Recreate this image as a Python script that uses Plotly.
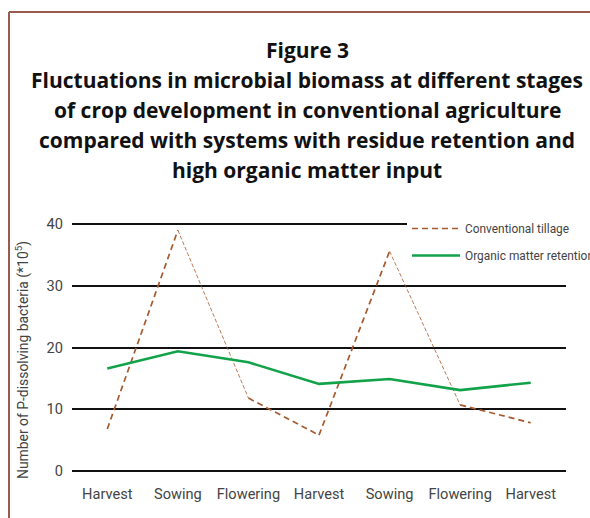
import plotly.graph_objects as go

stages = ["Harvest", "Sowing", "Flowering", "Harvest ", "Sowing ", "Flowering ", "Harvest  "]
stage_labels = ["Harvest", "Sowing", "Flowering", "Harvest", "Sowing", "Flowering", "Harvest"]
conventional = [6.8, 39.0, 11.8, 5.8, 35.6, 10.7, 7.8]
organic = [16.6, 19.4, 17.6, 14.1, 14.9, 13.1, 14.3]
y_ticks = [0, 10, 20, 30, 40]

title_lines = [
    "Figure 3",
    "Fluctuations in microbial biomass at different stages",
    "of crop development in conventional agriculture",
    "compared with systems with residue retention and",
    "high organic matter input",
]

BROWN = "#A65A2E"
GREEN = "#12A24A"
W, H = 590, 518
ML, MR, MT, MB = 72, 24, 221, 44

fig = go.Figure()

# conventional tillage: drawn segment by segment (the sowing->flowering drops are thin)
for i in range(len(stages) - 1):
    thin = stage_labels[i] == "Sowing"
    fig.add_trace(go.Scatter(
        x=[stages[i], stages[i + 1]], y=[conventional[i], conventional[i + 1]],
        mode="lines",
        line=dict(color=BROWN, width=0.8 if thin else 1.7, dash="4px,2px" if thin else "6px,4px"),
        name="Conventional tillage", showlegend=(i == 0), legend="legend",
        hoverinfo="skip",
    ))

fig.add_trace(go.Scatter(
    x=stages, y=organic, mode="lines",
    line=dict(color=GREEN, width=2.6),
    name="Organic matter retention", legend="legend2",
))

pw = W - ML - MR
ph = H - MT - MB

def px_x(p):
    return (p - ML) / pw

def px_y(p):
    return (H - MB - p) / ph

SANS = "Roboto, Liberation Sans, sans-serif"

annotations = []
title_y = [50, 80, 110, 140, 170]
for line, yy in zip(title_lines, title_y):
    annotations.append(dict(
        text=f"<b>{line}</b>", x=px_x(307), y=px_y(yy), xref="paper", yref="paper",
        xanchor="center", yanchor="middle", showarrow=False,
        font=dict(family="Open Sans", size=21.0, color="#111111"),
    ))
annotations.append(dict(
    text="Number of P-dissolving bacteria (*10<sup>5</sup>)", textangle=-90,
    x=px_x(22), y=px_y(360), xref="paper", yref="paper",
    xanchor="center", yanchor="middle", showarrow=False,
    font=dict(family=SANS, size=13.9, color="#444444"),
))

shapes = [
    dict(type="line", xref="paper", yref="paper", x0=px_x(9), x1=px_x(600), y0=px_y(12), y1=px_y(12),
         line=dict(color="#9A5A50", width=2)),
    dict(type="line", xref="paper", yref="paper", x0=px_x(9), x1=px_x(9), y0=px_y(12), y1=px_y(530),
         line=dict(color="#9A5A50", width=2)),
]

tick_font = dict(family=SANS, size=14.6, color="#444444")
legend_font = dict(family=SANS, size=11.9, color="#444444")

fig.update_layout(
    width=W, height=H,
    margin=dict(l=ML, r=MR, t=MT, b=MB, autoexpand=False),
    paper_bgcolor="white", plot_bgcolor="white",
    annotations=annotations, shapes=shapes,
    xaxis=dict(type="category", categoryorder="array", categoryarray=stages,
               tickvals=stages, ticktext=stage_labels, range=[-0.5, 6.5],
               showgrid=False, zeroline=False, showline=False, ticks="",
               tickangle=0, automargin=False,
               ticklabelstandoff=9, tickfont=tick_font),
    yaxis=dict(range=[-0.5, 40.5], tickvals=y_ticks, showgrid=True, gridcolor="#111111",
               gridwidth=1.5, zeroline=False, showline=False, ticks="", ticklabelstandoff=8,
               automargin=False, tickfont=tick_font),
    legend=dict(x=px_x(407), y=px_y(214), xanchor="left", yanchor="top",
                bgcolor="white", borderwidth=0, font=legend_font, itemwidth=48),
    legend2=dict(x=px_x(407), y=px_y(241), xanchor="left", yanchor="top",
                 bgcolor="rgba(0,0,0,0)", borderwidth=0, font=legend_font, itemwidth=48),
    showlegend=True,
)

fig.write_html(
    "out.html",
    config={"displayModeBar": False},
    post_script="document.body.style.margin='0';document.body.style.overflow='hidden';",
)
